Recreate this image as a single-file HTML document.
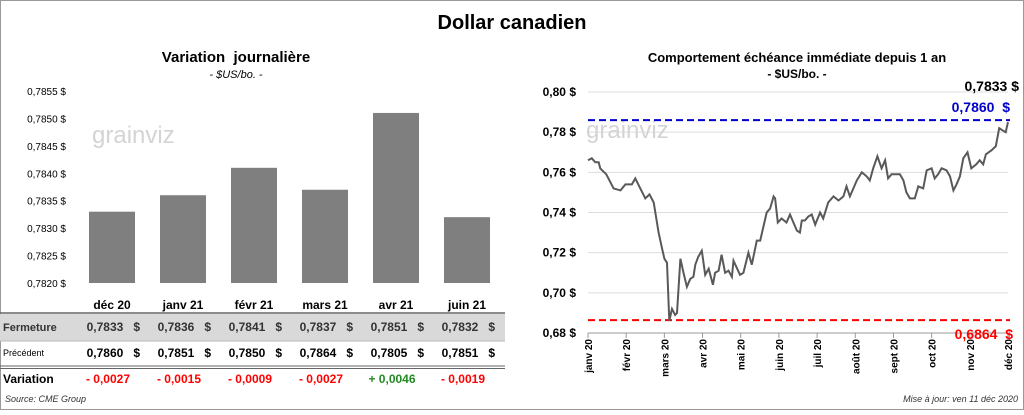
<!DOCTYPE html>
<html><head><meta charset="utf-8"><style>
body{margin:0;background:#fff;font-family:"Liberation Sans",Arial,sans-serif}
svg text{font-family:"Liberation Sans",Arial,sans-serif;white-space:pre}
</style></head><body>
<svg id="c" width="1024" height="410" viewBox="0 0 1024 410">
<rect x="0.5" y="0.5" width="1023" height="409" fill="#fff" stroke="#999"/>
<text x="512" y="29" font-size="20" font-weight="bold" text-anchor="middle">Dollar canadien</text>
<text x="236" y="62" font-size="15" font-weight="bold" text-anchor="middle">Variation  journalière</text>
<text x="236" y="78" font-size="11" font-style="italic" text-anchor="middle">- $US/bo. -</text>
<text x="797" y="62" font-size="13" font-weight="bold" text-anchor="middle">Comportement échéance immédiate depuis 1 an</text>
<text x="797" y="78" font-size="12" font-weight="bold" text-anchor="middle">- $US/bo. -</text>
<g id="left"></g><g id="right"></g>
<text x="5" y="402" font-size="9" font-style="italic" fill="#333">Source: CME Group</text>
<text x="1018" y="402" font-size="9" font-style="italic" fill="#333" text-anchor="end">Mise à jour: ven 11 déc 2020</text>
</svg>
<script>
const barCats=["déc 20","janv 21","févr 21","mars 21","avr 21","juin 21"];
const closeVals=[0.7833,0.7836,0.7841,0.7837,0.7851,0.7832];
const prevVals=[0.7860,0.7851,0.7850,0.7864,0.7805,0.7851];
const barTicks=[0.7820,0.7825,0.7830,0.7835,0.7840,0.7845,0.7850,0.7855];
const monthLabels=["janv 20","févr 20","mars 20","avr 20","mai 20","juin 20","juil 20","août 20","sept 20","oct 20","nov 20","déc 20"];
const lineX=[0,.10,.19,.28,.32,.48,.67,.85,.98,1.15,1.24,1.37,1.50,1.61,1.72,1.85,1.94,2.00,2.07,2.13,2.20,2.28,2.33,2.42,2.50,2.59,2.68,2.76,2.81,2.89,2.98,3.07,3.16,3.27,3.33,3.42,3.50,3.59,3.68,3.77,3.81,3.98,4.07,4.20,4.29,4.42,4.51,4.68,4.77,4.86,4.90,4.97,5.07,5.20,5.29,5.38,5.47,5.55,5.60,5.68,5.77,5.86,5.95,6.08,6.16,6.29,6.43,6.56,6.69,6.77,6.86,6.95,7.04,7.17,7.30,7.38,7.47,7.58,7.69,7.78,7.86,7.95,8.17,8.26,8.34,8.43,8.56,8.65,8.78,8.87,9.00,9.08,9.17,9.26,9.39,9.48,9.57,9.65,9.74,9.83,9.94,10.04,10.17,10.26,10.35,10.42,10.57,10.68,10.77,10.85,10.94,11.0];
const lineY=[.766,.767,.765,.765,.762,.759,.752,.751,.754,.754,.757,.752,.747,.749,.745,.730,.722,.717,.715,.686,.692,.689,.690,.717,.710,.703,.707,.708,.714,.718,.721,.709,.712,.704,.710,.711,.719,.710,.711,.708,.716,.709,.710,.720,.714,.726,.726,.740,.742,.748,.747,.735,.737,.735,.739,.735,.731,.730,.736,.736,.738,.739,.734,.740,.737,.745,.748,.746,.748,.753,.748,.752,.756,.760,.758,.756,.762,.768,.762,.766,.757,.759,.759,.756,.750,.747,.747,.753,.752,.761,.762,.757,.759,.762,.761,.758,.751,.754,.758,.767,.770,.762,.764,.766,.764,.769,.771,.773,.782,.781,.780,.785];
const lineTicks=[0.68,0.70,0.72,0.74,0.76,0.78,0.80];
const highVal=0.7860, lowVal=0.6864, lastVal=0.7833;

const NS="http://www.w3.org/2000/svg";
function mk(p,t,a,txt){const e=document.createElementNS(NS,t);for(const k in a)e.setAttribute(k,a[k]);if(txt!==undefined)e.textContent=txt;p.appendChild(e);return e;}
const fmt=(v,d)=>v.toFixed(d).replace('.',',');

// LEFT
const L=document.getElementById('left');
const ly=v=>283-(v-0.7820)/0.0035*192;
const bx=i=>112+i*71;
const w1=mk(L,'text',{x:92,y:143,'font-size':24,fill:'#d4d4d4'},'grainviz');


barTicks.forEach(t=>{const e=mk(L,'text',{x:66,y:ly(t)+4,'font-size':10,'text-anchor':'end'},fmt(t,4)+' $');
});
closeVals.forEach((v,i)=>{const e=mk(L,'rect',{x:bx(i)-23,y:ly(v),width:46,height:283-ly(v),fill:'#7f7f7f'});
});
mk(L,'rect',{x:0,y:314,width:505,height:27,fill:'#d9d9d9'});
mk(L,'line',{x1:0,x2:505,y1:313,y2:313,stroke:'#666','stroke-width':1.5});
mk(L,'line',{x1:0,x2:505,y1:341,y2:341,stroke:'#bbb','stroke-width':1});
mk(L,'line',{x1:0,x2:505,y1:366,y2:366,stroke:'#666','stroke-width':1});
mk(L,'line',{x1:0,x2:505,y1:368.5,y2:368.5,stroke:'#666','stroke-width':1});
mk(L,'text',{x:3,y:331,'font-size':11,'font-weight':'bold',fill:'#333'},'Fermeture');
mk(L,'text',{x:3,y:356,'font-size':9},'Précédent');
mk(L,'text',{x:3,y:383,'font-size':12,'font-weight':'bold'},'Variation');
barCats.forEach((c,i)=>{
 const a=mk(L,'text',{x:bx(i),y:309,'font-size':12,'font-weight':'bold','text-anchor':'middle'},c);
 
 const b=mk(L,'text',{x:bx(i)+28,y:331,'font-size':12,'font-weight':'bold','text-anchor':'end',fill:'#333'},fmt(closeVals[i],4)+'   $');
 
 const p=mk(L,'text',{x:bx(i)+28,y:357,'font-size':12,'font-weight':'bold','text-anchor':'end'},fmt(prevVals[i],4)+'   $');
 
 const d=closeVals[i]-prevVals[i];
 const v=mk(L,'text',{x:bx(i)-4,y:383,'font-size':12,'font-weight':'bold','text-anchor':'middle',fill:d<0?'#ff0000':'#228b22'},(d<0?'- ':'+ ')+fmt(Math.abs(d),4));
 
});

// RIGHT
const R=document.getElementById('right');
const rx=m=>588+m/11*420;
const ry=v=>333-(v-0.68)/0.12*241;
lineTicks.forEach(t=>{mk(R,'line',{x1:588,x2:1008,y1:ry(t),y2:ry(t),stroke:'#ddd'});
const e=mk(R,'text',{x:576,y:ry(t)+4,'font-size':12,'font-weight':'bold','text-anchor':'end'},fmt(t,2)+' $');
});
const w2=mk(R,'text',{x:586,y:138,'font-size':24,fill:'#d4d4d4'},'grainviz');


mk(R,'line',{x1:588,x2:1008,y1:333,y2:333,stroke:'#999'});
monthLabels.forEach((m,i)=>{const x=rx(i);mk(R,'line',{x1:x,x2:x,y1:333,y2:338,stroke:'#999'});
const e=mk(R,'text',{x:0,y:0,'font-size':10,'font-weight':'bold','text-anchor':'end',transform:`translate(${x+4},339) rotate(-90)`},m);
});
const hl=mk(R,'line',{x1:588,x2:1010,y1:ry(highVal),y2:ry(highVal),stroke:'#0000cc','stroke-width':2,'stroke-dasharray':'7,4'});

const ll=mk(R,'line',{x1:588,x2:1010,y1:ry(lowVal),y2:ry(lowVal),stroke:'#ff0000','stroke-width':2,'stroke-dasharray':'7,4'});

const pts=lineX.map((m,i)=>rx(m).toFixed(1)+','+ry(lineY[i]).toFixed(1)).join(' ');
const pl=mk(R,'polyline',{points:pts,fill:'none',stroke:'#595959','stroke-width':2});

const t1=mk(R,'text',{x:1019,y:91,'font-size':14,'font-weight':'bold','text-anchor':'end'},fmt(lastVal,4)+' $');

const t2=mk(R,'text',{x:1010,y:112,'font-size':14,'font-weight':'bold','text-anchor':'end',fill:'#0000cc'},fmt(highVal,4)+'  $');

const t3=mk(R,'text',{x:1013,y:339,'font-size':14,'font-weight':'bold','text-anchor':'end',fill:'#ff0000'},fmt(lowVal,4)+'  $');

</script>
</body></html>
